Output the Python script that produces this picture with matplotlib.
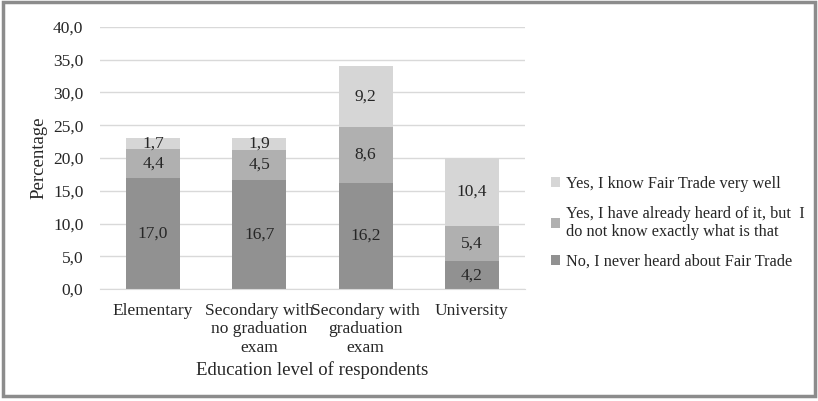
import numpy as np
import matplotlib
matplotlib.use("Agg")
import matplotlib.pyplot as plt
from matplotlib.ticker import FuncFormatter
from matplotlib.patches import Rectangle

plt.rcParams['font.family'] = ['Liberation Serif', 'DejaVu Serif']

categories = ["Elementary", "Secondary with\nno graduation\nexam", "Secondary with\ngraduation\nexam", "University"]
never_heard = [17.0, 16.7, 16.2, 4.2]
heard_of = [4.4, 4.5, 8.6, 5.4]
know_well = [1.7, 1.9, 9.2, 10.4]
series_labels = ["No, I never heard about Fair Trade",
                 "Yes, I have already heard of it, but  I\ndo not know exactly what is that",
                 "Yes, I know Fair Trade very well"]
colors = ["#919191", "#b0b0b0", "#d6d6d6"]

fig = plt.figure(figsize=(8.18, 4.01), dpi=100)
ax = fig.add_axes([100/818, 1 - 289/401, 425/818, 262/401])

x = np.arange(len(categories))
bottom = np.zeros(len(categories))
bars = []
for vals, col, lab in zip([never_heard, heard_of, know_well], colors, series_labels):
    b = ax.bar(x, vals, 0.51, bottom=bottom, color=col, label=lab, zorder=2)
    for xi, v, bt in zip(x, vals, bottom):
        ax.text(xi, bt + v / 2, f"{v:.1f}".replace(".", ","), ha="center", va="center",
                fontsize=12.5, color="#262626", zorder=3)
    bottom += np.array(vals)
    bars.append(b)

ax.set_ylim(0, 40)
ax.set_xlim(-0.5, 3.5)
ax.set_yticks(np.arange(0, 41, 5))
ax.yaxis.set_major_formatter(FuncFormatter(lambda v, p: f"{v:.1f}".replace(".", ",")))
ax.yaxis.grid(True, color="#d9d9d9", linewidth=1, zorder=0)
ax.set_axisbelow(True)
for s in ["top", "right", "left"]:
    ax.spines[s].set_visible(False)
ax.spines["bottom"].set_color("#d9d9d9")
ax.tick_params(axis="y", length=0, labelsize=12.5, colors="#262626", pad=12)
ax.tick_params(axis="x", length=0, labelsize=12.5, colors="#262626", pad=10)
ax.set_xticks(x)
ax.set_xticklabels(categories)
for t in ax.get_xticklabels():
    t.set_linespacing(1.2)
ax.set_ylabel("Percentage", fontsize=13.5, color="#262626", labelpad=4)
ax.set_xlabel("Education level of respondents", fontsize=13.5, color="#262626", labelpad=4)

handles = bars[::-1]
leg = fig.legend(handles, series_labels[::-1], loc="center left", bbox_to_anchor=(536/818, 1 - 223/401),
                 frameon=False, fontsize=11.7, handlelength=0.6, handleheight=0.6,
                 handletextpad=0.35, labelspacing=0.85, labelcolor="#262626")

fig.patches.append(Rectangle((0.004, 0.012), 0.992, 0.982, transform=fig.transFigure,
                             fill=False, edgecolor="#8c8c8c", linewidth=2.5))

fig.savefig("out.png", dpi=100)
